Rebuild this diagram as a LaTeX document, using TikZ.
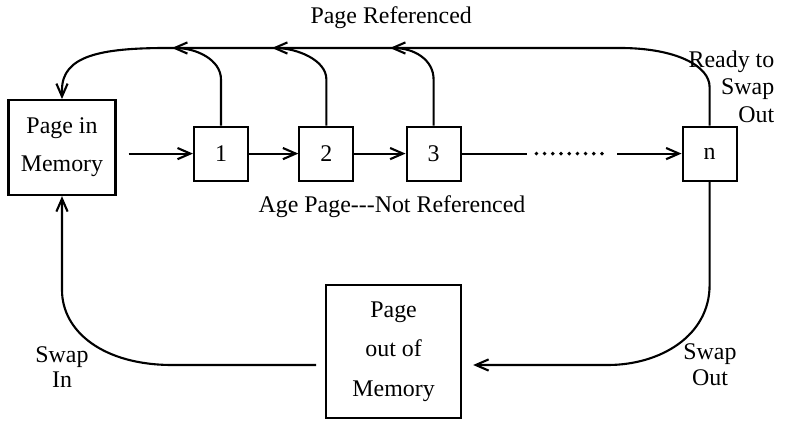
\documentclass[tikz,border=0pt]{standalone}
\usepackage{fontspec}
\setmainfont{Liberation Serif}
\usetikzlibrary{arrows.meta}
\tikzset{pagebox/.style={draw, minimum size=1.35cm, inner sep=0pt},
  membox/.style={draw, align=center, inner sep=0pt},
  lbl/.style={align=center, font=\fontsize{17}{18}\selectfont},
  dotline/.style={line width=2.8pt, line cap=round, dash pattern=on 0pt off 2.05mm}}

\begin{document}
\begin{tikzpicture}[line width=1.5pt, >={Straight Barb[length=3.2mm,width=2.8mm]}, font=\fontsize{17}{20}\selectfont]
\useasboundingbox (0,0) rectangle (19.65,11);

\node[membox, minimum width=2.675cm, minimum height=2.375cm, font=\fontsize{17}{27}\selectfont] (mem) at (1.55,7.31) {Page in\\Memory};
\node[pagebox] (b1) at (5.525,7.16) {1};
\node[pagebox] (b2) at (8.16,7.16) {2};
\node[pagebox] (b3) at (10.84,7.16) {3};
\node[pagebox] (bn) at (17.74,7.16) {n};
\node[membox, minimum width=3.375cm, minimum height=3.325cm, font=\fontsize{17}{28}\selectfont] (out) at (9.84,2.21) {Page\\out of\\Memory};

\node[lbl] (ref) at (9.78,10.55) {Page Referenced};
\node[lbl] (age) at (9.8,5.83) {Age Page-{}-{}-Not Referenced};
\node[lbl, align=right, anchor=east, font=\fontsize{17}{19.5}\selectfont] (ready) at (19.5,8.83) {Ready to\\Swap\\Out};
\node[lbl] (swin) at (1.55,1.83) {Swap\\In};
\node[lbl] (swout) at (17.75,1.88) {Swap\\Out};

% aging chain
\coordinate (s) at (mem.east |- b1.west);
\coordinate (d1) at (13.18,7.16);
\coordinate (d2) at (15.43,7.16);
\draw[->] ([xshift=3mm]s) -- (b1);
\draw[->] (b1) -- (b2);
\draw[->] (b2) -- (b3);
\draw (b3) -- (d1);
\draw[dotline] ([xshift=2.3mm]d1) -- ([xshift=-1.8mm]d2);
\draw[->] (d2) -- (bn);

% referenced pages go back
\draw[->] (bn.north) -- (17.74,8.825) .. controls (17.74,9.35) and (16.9,9.8) .. (15.5,9.8) -- (4.18,9.8) .. controls (2.5,9.8) and (1.55,9.6) .. (1.55,8.75) -- (mem.north);
\draw[->] (b1.north) -- ++(0,1.15) .. controls +(0,0.5) and +(0.6,0) .. (4.3,9.8);
\draw[->] (b2.north) -- ++(0,1.15) .. controls +(0,0.5) and +(0.6,0) .. (6.8,9.8);
\draw[->] (b3.north) -- ++(0,1.15) .. controls +(0,0.5) and +(0.6,0) .. (9.75,9.8);

% swapping
\coordinate (oin) at (11.83,1.875);
\coordinate (oout) at (7.9,1.875);
\draw[->] (bn.south) -- (17.74,3.875) .. controls (17.74,2.6) and (16.5,1.875) .. (15.2,1.875) -- (oin);
\draw[->] (oout) -- (4.3,1.875) .. controls (2.6,1.875) and (1.55,2.7) .. (1.55,3.75) -- (mem.south);
\end{tikzpicture}
\end{document}
